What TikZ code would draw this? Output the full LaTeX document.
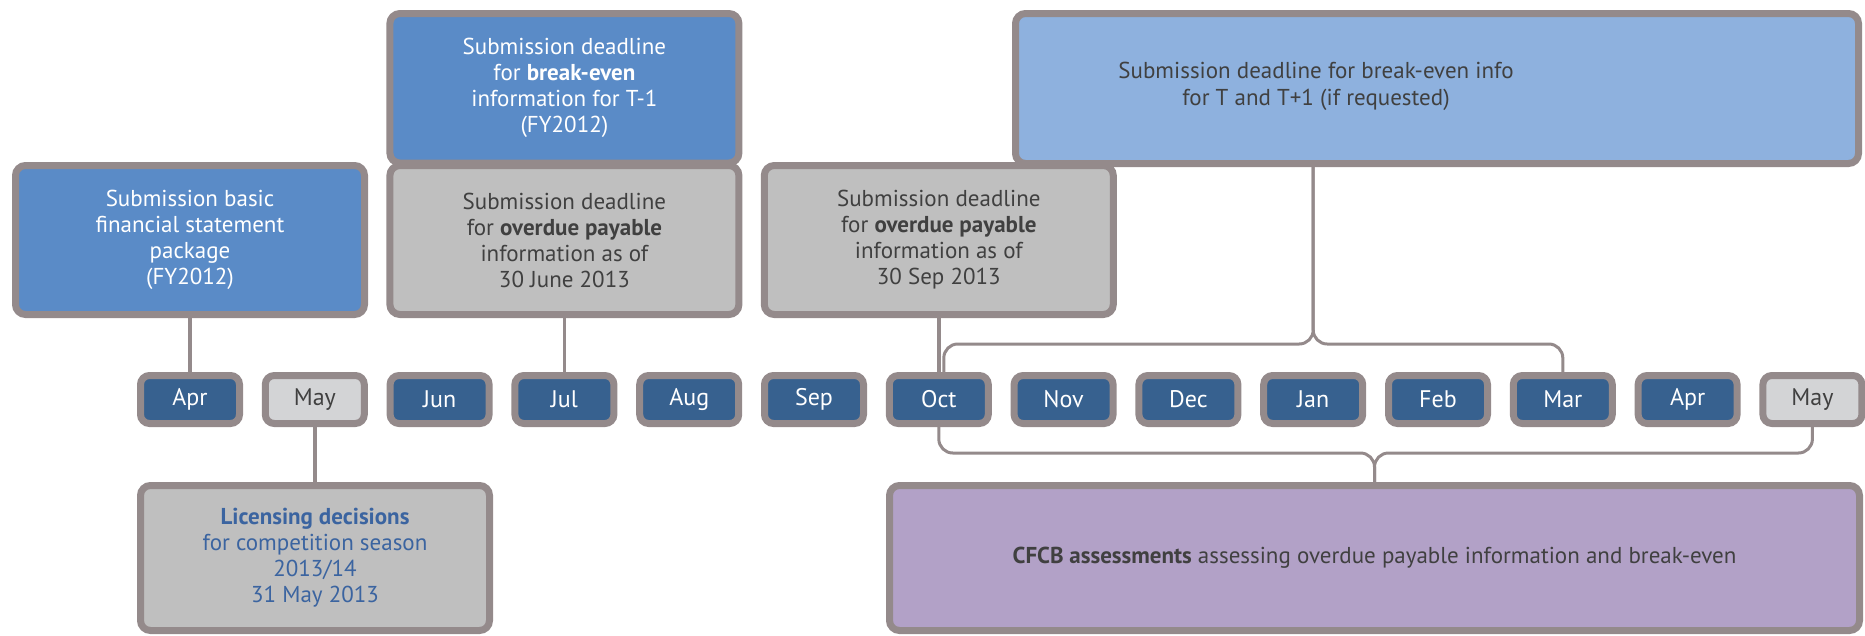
\documentclass[tikz,border=0pt]{standalone}
\usepackage{fontspec}
\setmainfont{PT Sans}
\usepackage{tikz}
\usetikzlibrary{positioning,calc}
\definecolor{frame}{HTML}{948A8B}
\definecolor{boxblue}{HTML}{5A8BC7}
\definecolor{boxlight}{HTML}{8EB1DE}
\definecolor{boxgrey}{HTML}{BFBFBF}
\definecolor{boxpurple}{HTML}{B2A1C7}
\definecolor{monthdark}{HTML}{37618F}
\definecolor{monthlight}{HTML}{D3D4D6}
\definecolor{textdark}{HTML}{404040}
\definecolor{textblue}{HTML}{3B64A0}

\begin{document}
\begin{tikzpicture}[x=1pt, y=-1pt,
  box/.style={draw=frame, line width=7pt, rounded corners=10pt, minimum width=349pt, minimum height=149pt,
    inner sep=0pt, align=center, font=\fontsize{23}{26}\selectfont},
  month/.style={draw=frame, line width=7pt, rounded corners=9pt, minimum width=99pt, minimum height=48pt,
    inner sep=0pt, fill=monthdark, text=white, font=\fontsize{24}{26}\selectfont},
  monthoff/.style={month, fill=monthlight, text=textdark},
  conn/.style={draw=frame, line width=3.5pt},
  brace/.style={draw=frame, line width=3pt, rounded corners=14pt}]
  \useasboundingbox (0,0) rectangle (1865,635);

  % Timeline months
  \node[month] (apr) at (190, 399.5) {Apr};
  \node[monthoff] (may) at (314.8, 399.5) {May};
  \node[month] (jun) at (439.6, 399.5) {Jun};
  \node[month] (jul) at (564.4, 399.5) {Jul};
  \node[month] (aug) at (689.2, 399.5) {Aug};
  \node[month] (sep) at (814, 399.5) {Sep};
  \node[month] (oct) at (938.8, 399.5) {Oct};
  \node[month] (nov) at (1063.6, 399.5) {Nov};
  \node[month] (dec) at (1188.4, 399.5) {Dec};
  \node[month] (jan) at (1313.2, 399.5) {Jan};
  \node[month] (feb) at (1438, 399.5) {Feb};
  \node[month] (mar) at (1562.8, 399.5) {Mar};
  \node[month] (aprB) at (1687.6, 399.5) {Apr};
  \node[monthoff] (mayB) at (1812.4, 399.5) {May};

  % Submission boxes above the timeline
  \node[box, fill=boxblue, text=white] (basic) at (190, 240) {Submission basic\\financial statement\\package\\(FY2012)};
  \node[box, fill=boxblue, text=white, minimum height=149.5pt] (breakEven) at (564.4, 88.25) {Submission deadline\\for \textbf{break-even}\\information for T-1\\(FY2012)};
  \node[box, fill=boxgrey, text=textdark] (overdueJun) at (564.4, 240) {Submission deadline\\for \textbf{overdue payable}\\information as of\\30 June 2013};
  \node[box, fill=boxgrey, text=textdark] (overdueSep) at (938.8, 240) {Submission deadline\\for \textbf{overdue payable}\\information as of\\30 Sep 2013};
  \node[box, fill=boxlight, minimum width=843pt, minimum height=150pt] (breakEvenT) at (1437, 88.5) {};
  \node[align=center, text=textdark, font=\fontsize{23}{27}\selectfont] (breakEvenTText) at (1316, 86.5) {Submission deadline for break-even info\\for T and T+1 (if requested)};

  % Boxes below the timeline
  \node[box, fill=boxgrey, text=textblue, minimum height=145pt] (licensing) at (315, 558) {\textbf{Licensing decisions}\\for competition season\\2013/14\\31 May 2013};
  \node[box, fill=boxpurple, text=textdark, minimum width=970pt, minimum height=145pt] (cfcb) at (1374.5, 558) {\textbf{CFCB assessments} assessing overdue payable information and break-even};

  % Connectors
  \draw[conn] (basic) -- (apr);
  \draw[conn] (overdueJun) -- (jul);
  \draw[conn] (overdueSep.south -| oct) -- (oct);
  \draw[conn] (may) -- (may |- licensing.north);

  % Braces
  \coordinate (topJoin) at (1313.2, 344);
  \coordinate (botJoin) at (cfcb.north |- 0,453);
  \draw[brace] ([xshift=5pt]oct.north) |- (topJoin) -- (topJoin |- breakEvenT.south);
  \draw[brace] (mar.north) |- (topJoin) -- (topJoin |- breakEvenT.south);
  \draw[brace] (oct.south) |- (botJoin) -- (cfcb.north);
  \draw[brace] (mayB.south) |- (botJoin) -- (cfcb.north);
\end{tikzpicture}
\end{document}
